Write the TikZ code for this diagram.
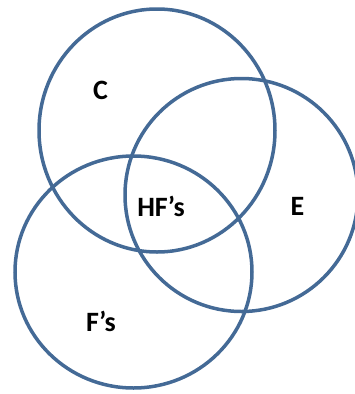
\documentclass[tikz,border=0pt]{standalone}
\usepackage{fontspec}
\setmainfont{Carlito}
\usetikzlibrary{shapes.geometric}
\definecolor{ringblue}{RGB}{68,106,150}
\begin{document}
\begin{tikzpicture}[x=1pt,y=-1pt,ring/.style={ellipse,draw=ringblue,line width=3.5pt,inner sep=0pt},lbl/.style={inner sep=0pt,font=\fontsize{28}{30}\selectfont\bfseries}
]
\useasboundingbox (0,0) rectangle (355,394);
% the three sets
\node[ring,minimum width=236pt,minimum height=243pt] (C) at (157,130.5) {};
\node[ring,minimum width=233pt,minimum height=233pt] (E) at (241.5,195) {};
\node[ring,minimum width=237pt,minimum height=232pt] (F) at (133.5,272) {};
% labels
\node[lbl] (lc) at (100.5,90) {C};
\node[lbl] (le) at (297.5,206.5) {E};
\node[lbl] (lf) at (101,321) {F’s};
\node[lbl] (lhf) at (161,206) {HF’s};
\end{tikzpicture}
\end{document}
